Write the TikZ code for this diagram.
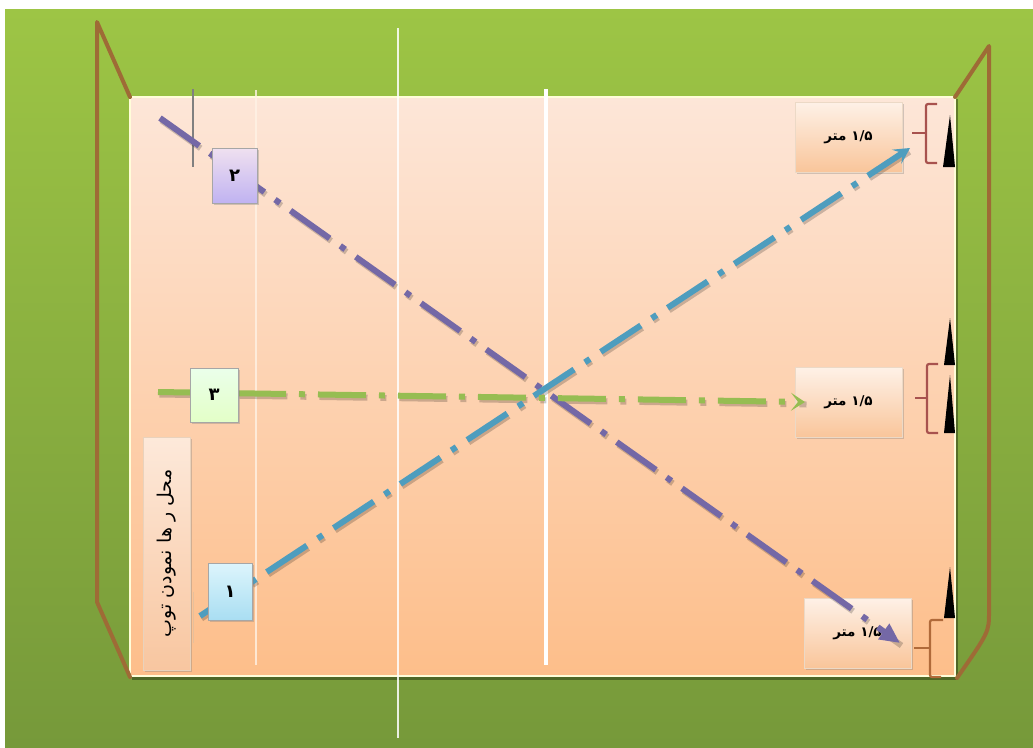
\documentclass[tikz,border=0pt]{standalone}
\usepackage{fontspec}
\newfontfamily\fa[Script=Arabic]{DejaVu Sans}
\TeXXeTstate=1
\usetikzlibrary{arrows.meta,shadows}
\definecolor{grtop}{HTML}{9DC545}
\definecolor{grbot}{HTML}{76993A}
\definecolor{fieldtop}{HTML}{FDE6D8}
\definecolor{fieldbot}{HTML}{FDBE8A}
\definecolor{framec}{HTML}{9E6B36}
\definecolor{purplec}{HTML}{7468A6}
\definecolor{bluec}{HTML}{4E9DBE}
\definecolor{greenc}{HTML}{96BD52}
\definecolor{brackc}{HTML}{A8524E}
\definecolor{brackb}{HTML}{B06A3A}
\definecolor{boxtop}{HTML}{FEF1E7}
\definecolor{boxbot}{HTML}{F9C59A}
\definecolor{labside}{HTML}{F8C6A0}
\definecolor{labmid}{HTML}{FDE9DA}
\definecolor{bluetop}{HTML}{DDF5FC}
\definecolor{bluebot}{HTML}{A9DEF2}
\tikzset{
  frame/.style={draw=framec,line width=4,line join=round,line cap=round},
  dashdot/.style={line width=6,dash pattern=on 48pt off 13pt on 6pt off 13pt},
  shadowline/.style={draw=black,opacity=.2,line width=6,dash pattern=on 48pt off 13pt on 6pt off 13pt},
  numbox/.style={draw=gray!70,line width=1,inner sep=0pt,drop shadow={opacity=.35,shadow xshift=1.5pt,shadow yshift=-1.5pt},
    font=\fa\bfseries\fontsize{18}{20}\selectfont},
  meterbox/.style={draw=brown!30,line width=.8,inner sep=0pt,minimum width=107,minimum height=70,
    top color=boxtop,bottom color=boxbot,drop shadow={opacity=.35,shadow xshift=1.5pt,shadow yshift=-1.5pt},
    font=\fa\bfseries\fontsize{13.5}{15}\selectfont},
  bracket/.style={draw=brackc,line width=2.2,rounded corners=2pt},
  cone/.style={fill=black}
}
\begin{document}
\begin{tikzpicture}[x=1pt,y=-1pt]
\useasboundingbox (0,0) rectangle (1033,747);
\fill[white] (0,0) rectangle (1033,747);
\shade[top color=grtop,bottom color=grbot] (5,9) rectangle (1033,747);
% field
\fill[black,opacity=.35] (132,99) rectangle (958,680);
\shade[top color=fieldtop,bottom color=fieldbot] (130,97) rectangle (955,676);
\draw[yellow!15!white,line width=2] (130,97) rectangle (955,676);
% white lines
\draw[white,line width=1.6,opacity=.85] (398,28) -- (398,738);
\draw[white,line width=4] (546,89) -- (546,665);
\draw[white!90!orange,line width=1.5,opacity=.8] (256,90) -- (256,665);
\draw[gray,line width=1.2] (193,89) -- (193,167);
\draw[brown!50,line width=1,opacity=.7] (193,592) -- (193,643);
% goal frames
\draw[frame] (130,97) -- (97,22) -- (97,602) -- (130,677);
\draw[frame] (955,97) -- (989,46) -- (989,612) .. controls (989,632) .. (957,678);
% cones
\fill[cone] (950,115) -- (955,167) -- (943,167) -- cycle;
\fill[cone] (950,318) -- (955,365) -- (944,365) -- cycle;
\fill[cone] (950,375) -- (955,433) -- (944,433) -- cycle;
\fill[cone] (950,567) -- (955,618) -- (944,618) -- cycle;
% brackets
\draw[bracket] (937,104) -- (926,104) -- (926,163) -- (937,163);
\draw[brackc,line width=2.2] (912,133) -- (926,133);
\draw[bracket] (938,364) -- (927,364) -- (927,433) -- (938,433);
\draw[brackc,line width=2.2] (915,398) -- (927,398);
\draw[bracket,draw=brackb] (943,620) -- (930,620) -- (930,677) -- (941,677);
\draw[brackb,line width=2.2] (914,648) -- (930,648);
% meter boxes
\node[meterbox] (m1) at (848.5,137) {\beginR\beginL ۱/۵\endL{} متر\endR};
\node[meterbox] (m2) at (848.5,402.5) {\beginR\beginL ۱/۵\endL{} متر\endR};
\node[meterbox] (m3) at (857.5,633) {\beginR\beginL ۱/۵\endL{} متر\endR};
% label box
\node[draw=brown!35,line width=.8,inner sep=0pt,rotate=90,minimum width=233,minimum height=47,
  top color=labmid,bottom color=labside,
  drop shadow={opacity=.35,shadow xshift=1.5pt,shadow yshift=-1.5pt},
  font=\fa\fontsize{19}{21}\selectfont] (lab) at (166.5,553.5) {\beginR محل ر ها نمودن توپ\endR};
% coordinates of line ends
\coordinate (p2s) at (160,118);
\coordinate (p2e) at (900,643);
\coordinate (p1s) at (200,616);
\coordinate (p1e) at (910,148);
\coordinate (p3s) at (158,392);
\coordinate (p3e) at (805,402);
% shadows of lines
\draw[shadowline] ([shift={(1.5,2.5)}]p2s) -- ([shift={(1.5,2.5)}]p2e);
\draw[shadowline] ([shift={(1.5,2.5)}]p1s) -- ([shift={(1.5,2.5)}]p1e);
\draw[shadowline] ([shift={(1.5,2.5)}]p3s) -- ([shift={(1.5,2.5)}]p3e);
% lines
\draw[dashdot,purplec,-{Triangle[length=20pt,width=18pt]}] (p2s) -- (p2e);
\draw[dashdot,bluec,-{Stealth[length=16pt,width=17pt,inset=7pt]}] (p1s) -- (p1e);
\draw[dashdot,greenc,-{Stealth[length=14pt,width=18pt,inset=7pt]}] (p3s) -- (p3e);
% number boxes
\node[numbox,minimum width=45,minimum height=55,top color=violet!12,bottom color=violet!35!blue!30] (b2) at (234.5,175.5) {\beginR ۲\endR};
\node[numbox,minimum width=48,minimum height=54,top color=green!8,bottom color=green!50!yellow!22] (b3) at (214,395) {\beginR ۳\endR};
\node[numbox,minimum width=44,minimum height=57,top color=bluetop,bottom color=bluebot] (b1) at (230,591.5) {\beginR ۱\endR};
\end{tikzpicture}
\end{document}
